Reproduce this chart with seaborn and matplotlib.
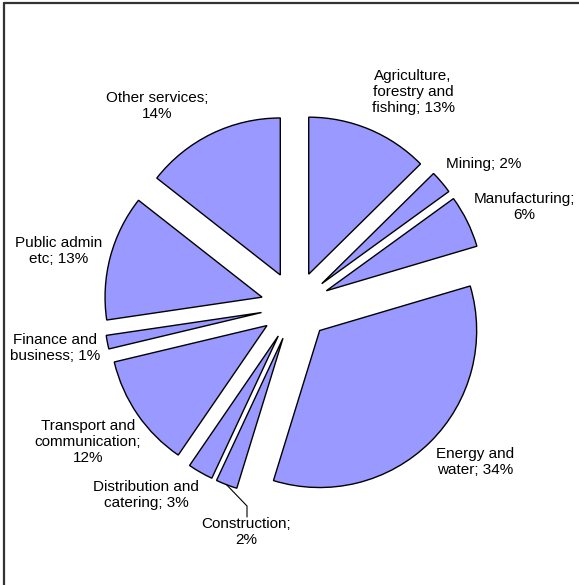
import numpy as np
import matplotlib
matplotlib.use("Agg")
import matplotlib.pyplot as plt
import seaborn as sns
from matplotlib.lines import Line2D

sns.set_theme(style="white")
plt.rcParams['font.family'] = ['Liberation Sans', 'DejaVu Sans']

categories = ["Agriculture, forestry and fishing", "Mining", "Manufacturing",
              "Energy and water", "Construction", "Distribution and catering",
              "Transport and communication", "Finance and business",
              "Public admin etc", "Other services"]
# shares (labels show rounded percentages)
shares = [12.6, 2.4, 5.4, 34.3, 2.2, 2.6, 11.7, 1.4, 12.9, 14.4]
label_text = ["Agriculture,\nforestry and\nfishing; 13%", "Mining; 2%", "Manufacturing;\n6%",
              "Energy and\nwater; 34%", "Construction;\n2%", "Distribution and\ncatering; 3%",
              "Transport and\ncommunication;\n12%", "Finance and\nbusiness; 1%",
              "Public admin\netc; 13%", "Other services;\n14%"]

# label positions (pixels in the 579x585 image, layout only)
label_px = [(413, 92), (484, 164), (524, 207), (475, 462), (246, 532),
            (146, 495), (88, 442), (55, 348), (59, 251), (157, 106)]

W, H = 579, 585
fig = plt.figure(figsize=(W / 100, H / 100), dpi=100)
ax = fig.add_axes([0, 0, 1, 1])

cx, cy, R = 295.4, 306.0, 157.0
d = 34.5

wedges, _ = ax.pie(shares, startangle=90, counterclock=False, radius=1.0,
                   explode=[d / R] * len(shares), colors=["#9999FF"] * len(shares),
                   wedgeprops=dict(edgecolor="black", linewidth=1.0), frame=True)
ax.set_xlim(-cx / R, (W - cx) / R)
ax.set_ylim(-(H - cy) / R, cy / R)
ax.set_aspect('auto')
ax.axis('off')

def px2data(px, py):
    return (px - cx) / R, (cy - py) / R

for txt, (px, py) in zip(label_text, label_px):
    x, y = px2data(px, py)
    ax.text(x, y, txt, ha='center', va='center', fontsize=11, color='black',
            linespacing=1.15)

# leader line for Construction
w = wedges[4]
mid = np.deg2rad((w.theta1 + w.theta2) / 2)
sx, sy = w.center[0] + np.cos(mid), w.center[1] + np.sin(mid)
ex, ey = px2data(247, 506)
bx, by = px2data(247, 517)
ax.plot([sx, ex, bx], [sy, ey, by], color='black', linewidth=0.8)

# frame (top and left only)
fig.add_artist(Line2D([4 / W, 1], [1 - 3 / H, 1 - 3 / H], transform=fig.transFigure,
                      color='#333333', linewidth=1.6))
fig.add_artist(Line2D([4 / W, 4 / W], [0, 1 - 3 / H], transform=fig.transFigure,
                      color='#333333', linewidth=1.6))

fig.savefig("out.png", dpi=100, facecolor='white')
